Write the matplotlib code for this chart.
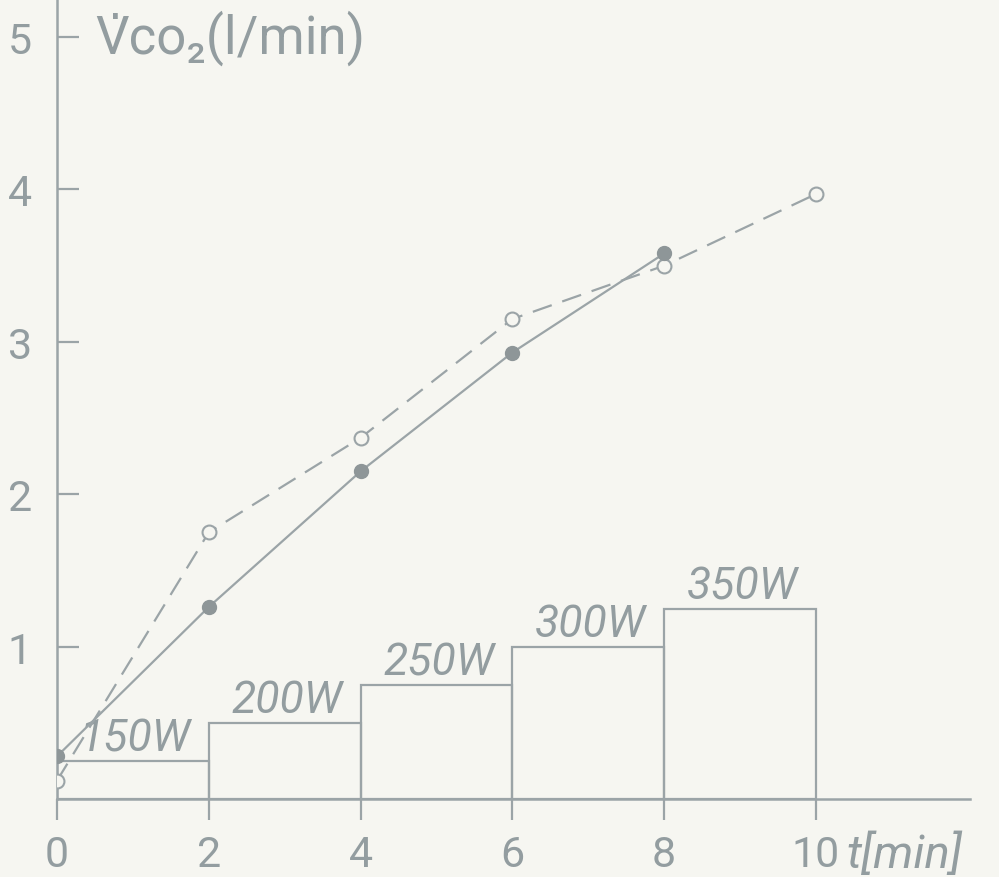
"""
CO2 output during a stepwise cycle ergometer test, with the load steps below
"""
import matplotlib
matplotlib.use("Agg")
import matplotlib.pyplot as plt

# time (min) and VCO2 (l/min) for the two runs
t_solid = [0, 2, 4, 6, 8]
vco2_solid = [0.28, 1.26, 2.15, 2.93, 3.58]
t_dashed = [0, 2, 4, 6, 8, 10]
vco2_dashed = [0.12, 1.75, 2.37, 3.15, 3.50, 3.97]

# load steps: start of each step, its length and the bar height in plot units
step_start = [0, 2, 4, 6, 8]
step_len = [2, 2, 2, 2, 2]
step_height = [0.25, 0.50, 0.75, 1.00, 1.25]
step_label = ["150W", "200W", "250W", "300W", "350W"]

x_ticks = [0, 2, 4, 6, 8, 10]
x_ticklabels = ["0", "2", "4", "6", "8", "10"]
y_ticks = [1, 2, 3, 4, 5]
y_ticklabels = ["1", "2", "3", "4", "5"]

paper = "#f6f6f1"
pencil = "#9ba4a7"
ink = "#939da0"
font = ["Roboto", "DejaVu Sans"]

plt.rcParams["font.family"] = font

fig = plt.figure(figsize=(9.99, 8.78), dpi=100, facecolor=paper)
ax = fig.add_axes([0.057, 0.0888, 0.914, 0.9112], facecolor=paper)

# load steps as open boxes
ax.bar(step_start, step_height, width=step_len, align="edge",
       fill=False, edgecolor=pencil, linewidth=1.6, zorder=1)
for x0, w, h, lab in zip(step_start, step_len, step_height, step_label):
    ax.text(x0 + w / 2 + 0.03, h + 0.01, lab, ha="center", va="bottom",
            fontsize=32, color=ink, style="italic", family=font)

ax.plot(t_dashed, vco2_dashed, color=pencil, lw=1.6, ls=(0, (9, 5)),
        marker="o", ms=10, mfc=paper, mec=pencil, mew=1.5, zorder=3)
ax.plot(t_solid, vco2_solid, color=pencil, lw=1.6, ls="-",
        marker="o", ms=10, mfc="#8e9698", mec="#8e9698", zorder=4)

ax.set_xlim(0, 12.03)
ax.set_ylim(0, 5.25)

for side in ["top", "right"]:
    ax.spines[side].set_visible(False)
for side in ["left", "bottom"]:
    ax.spines[side].set_color(pencil)
    ax.spines[side].set_linewidth(1.8)

ax.set_xticks(x_ticks)
ax.set_xticklabels(x_ticklabels)
ax.set_yticks(y_ticks)
ax.set_yticklabels(y_ticklabels)
ax.tick_params(axis="x", direction="out", length=15, width=1.6, color=pencil,
               labelsize=31, labelcolor=ink, pad=10)
ax.tick_params(axis="y", direction="in", length=16, width=1.6, color=pencil,
               labelsize=31, labelcolor=ink, pad=18)

ax.text(0.5, 5.0, "V\u0307co\u2082(l/min)", ha="left", va="center",
        fontsize=38, color=ink, family=font)
ax.text(10.4, -0.36, "t[min]", ha="left", va="center",
        fontsize=34, color=ink, style="italic", family=font, clip_on=False)

fig.savefig("out.png", dpi=100, facecolor=paper)
